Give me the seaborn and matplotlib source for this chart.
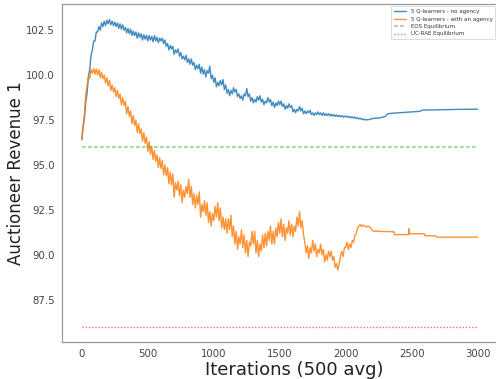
import matplotlib
matplotlib.use("Agg")
import matplotlib.pyplot as plt
import seaborn as sns
import pandas as pd

# ---------------- data ----------------
noisy_iters = list(range(0, 2261, 10))

no_agency_noisy = [
    96.4, 97.1, 97.6, 98.5, 99.0, 99.9, 100.3, 101.1, 101.4, 101.9,
    101.9, 102.4, 102.4, 102.7, 102.5, 102.9, 102.7, 103.0, 102.75, 103.05,
    102.85, 103.1, 102.8, 103.0, 102.75, 102.95, 102.7, 102.9, 102.6, 102.85,
    102.55, 102.8, 102.5, 102.65, 102.35, 102.6, 102.3, 102.55, 102.2, 102.45,
    102.2, 102.4, 102.05, 102.35, 102.1, 102.3, 101.95, 102.25, 102.0, 102.2,
    101.9, 102.2, 101.95, 102.15, 101.85, 102.2, 101.9, 102.1, 101.8, 102.05,
    101.9, 102.05, 101.75, 101.95, 101.6, 101.75, 101.4, 101.65, 101.45, 101.6,
    101.15, 101.4, 101.25, 101.45, 101.05, 101.25, 100.9, 101.05, 100.85, 101.1,
    100.7, 100.9, 100.6, 100.9, 100.55, 100.7, 100.3, 100.55, 100.35, 100.6,
    100.1, 100.45, 100.05, 100.3, 99.9, 100.25, 100.1, 100.5, 99.8, 100.0,
    99.6, 99.85, 99.35, 99.6, 99.4, 99.7, 99.45, 99.75, 99.2, 99.45,
    99.0, 99.2, 98.85, 99.15, 98.95, 99.3, 99.05, 99.2, 98.8, 98.95,
    98.7, 98.85, 98.6, 98.95, 98.85, 99.25, 98.8, 98.95, 98.55, 98.75,
    98.45, 98.65, 98.5, 98.8, 98.6, 98.85, 98.5, 98.65, 98.35, 98.55,
    98.45, 98.75, 98.5, 98.65, 98.3, 98.5, 98.2, 98.45, 98.3, 98.55,
    98.35, 98.55, 98.25, 98.4, 98.1, 98.3, 98.15, 98.4, 98.2, 98.3,
    97.95, 98.1, 97.9, 98.1, 98.0, 98.25, 98.0, 98.15, 97.85, 98.0,
    97.85, 98.0, 97.9, 98.05, 97.8, 97.9, 97.75, 97.9, 97.8, 97.95,
    97.8, 97.9, 97.75, 97.9, 97.75, 97.85, 97.75, 97.85, 97.72, 97.82,
    97.72, 97.8, 97.7, 97.78, 97.68, 97.76, 97.68, 97.75, 97.66, 97.72,
    97.66, 97.72, 97.64, 97.7, 97.62, 97.68, 97.6, 97.66, 97.58, 97.63,
    97.56, 97.6, 97.53, 97.57, 97.5, 97.54, 97.5, 97.53, 97.52, 97.56,
    97.56, 97.6, 97.58, 97.62, 97.58, 97.62, 97.62,
]
no_agency_tail_iters = [2300, 2320, 2360, 2400, 2480, 2560, 2580, 2700, 2850, 3000]
no_agency_tail = [97.7, 97.85, 97.88, 97.9, 97.94, 97.98, 98.05, 98.07, 98.09, 98.1]

agency_noisy = [
    96.4, 97.2, 97.8, 98.9, 99.4, 99.9, 99.8, 100.3, 100.1, 100.35,
    100.05, 100.35, 100.0, 100.3, 99.85, 100.15, 99.8, 100.0, 99.55, 99.85,
    99.4, 99.7, 99.15, 99.45, 99.05, 99.3, 98.8, 99.15, 98.7, 98.95,
    98.35, 98.75, 98.3, 98.55, 97.85, 98.25, 97.7, 98.0, 97.3, 97.75,
    97.2, 97.5, 96.8, 97.3, 96.75, 97.0, 96.3, 96.8, 96.2, 96.55,
    95.75, 96.3, 95.6, 96.05, 95.3, 95.8, 95.2, 95.55, 94.85, 95.4,
    94.8, 95.25, 94.45, 95.0, 94.4, 94.85, 93.95, 94.6, 93.9, 94.5,
    93.2, 94.0, 93.6, 94.1, 93.3, 93.9, 92.9, 93.6, 93.2, 93.8,
    93.4, 94.2, 93.2, 93.8, 92.8, 93.4, 92.6, 93.3, 92.8, 93.5,
    92.1, 92.8, 92.4, 93.0, 92.2, 92.9, 91.8, 92.4, 91.6, 92.3,
    91.9, 92.7, 92.1, 92.9, 91.9, 92.6, 91.5, 92.1, 91.4, 92.0,
    91.2, 92.0, 91.4, 92.2, 91.0, 91.6, 90.6, 91.3, 90.3, 91.0,
    90.6, 91.4, 90.4, 91.1, 90.1, 90.8, 89.9, 90.7, 90.5, 91.3,
    90.6, 91.3, 90.1, 90.8, 89.9, 90.6, 90.2, 91.1, 90.4, 91.2,
    90.5, 91.3, 90.8, 91.6, 90.6, 91.3, 90.6, 91.5, 91.0, 91.8,
    91.2, 92.0, 91.0, 91.7, 90.8, 91.5, 91.2, 91.9, 91.1, 91.7,
    91.0, 91.6, 91.3, 92.1, 91.6, 92.4, 91.5, 91.9, 91.1, 90.7,
    90.1, 90.5, 89.8, 90.4, 90.1, 90.8, 90.2, 90.6, 89.9, 90.3,
    90.1, 90.6, 90.0, 90.3, 89.6, 90.0, 89.7, 90.2, 89.9, 90.2,
    89.7, 89.9, 89.3, 89.5, 89.15, 89.5, 89.9, 90.2, 89.9, 90.4,
    90.4, 90.7, 90.3, 90.6, 90.4, 90.8, 90.7, 91.1, 91.2, 91.5,
    91.6, 91.68, 91.58, 91.65, 91.6, 91.58, 91.55, 91.6, 91.55, 91.5,
    91.35, 91.32, 91.3, 91.33, 91.3, 91.32, 91.3,
]
agency_tail_iters = [2365, 2370, 2476, 2480, 2484, 2595, 2600, 2685, 2690, 3000]
agency_tail = [91.28, 91.12, 91.12, 91.45, 91.17, 91.17, 91.06, 91.05, 90.98, 90.98]

eos_value = 96.0
ucrae_value = 86.0
eq_iters = [0, 3000]

labels = ["5 Q-learners - no agency", "5 Q-learners - with an agency",
          "EOS Equilibrium", "UC-RAE Equilibrium"]
x_ticks = [0, 500, 1000, 1500, 2000, 2500, 3000]
y_ticks = [87.5, 90.0, 92.5, 95.0, 97.5, 100.0, 102.5]

# ---------------- build frames ----------------
df_no = pd.DataFrame({"it": noisy_iters + no_agency_tail_iters,
                      "rev": no_agency_noisy + no_agency_tail})
df_ag = pd.DataFrame({"it": noisy_iters + agency_tail_iters,
                      "rev": agency_noisy + agency_tail})

# ---------------- style ----------------
sns.set_style("white")
plt.rcParams["font.family"] = ["DejaVu Sans"]

fig = plt.figure(figsize=(4.96, 3.79), dpi=100)
ax = fig.add_axes([62 / 496, 37 / 379, 435.5 / 496, 338 / 379])

sns.lineplot(data=df_no, x="it", y="rev", ax=ax, color="#1f77b4",
             linewidth=1.0, alpha=0.85, label=labels[0], sort=False)
sns.lineplot(data=df_ag, x="it", y="rev", ax=ax, color="#ff7f0e",
             linewidth=1.0, alpha=0.85, label=labels[1], sort=False)
ax.plot(eq_iters, [eos_value] * len(eq_iters), color="#2ca02c",
        linewidth=1.2, alpha=0.5, label=labels[2], linestyle=(0, (2.2, 1.4)))
ax.plot(eq_iters, [ucrae_value] * len(eq_iters), color="#e8383a",
        linewidth=1.0, alpha=0.7, label=labels[3], linestyle=(0, (1, 1.3)))

ax.set_xticks(x_ticks)
ax.set_yticks(y_ticks)
ax.set_xticklabels([str(t) for t in x_ticks])
ax.set_yticklabels([f"{t:.1f}" for t in y_ticks])
ax.tick_params(axis="both", labelsize=7.3, labelcolor="#444444", color="#999999",
               length=2.5, width=0.6, pad=2.5)
for s in ax.spines.values():
    s.set_color("#999999")
    s.set_linewidth(0.9)

ax.set_xlabel("Iterations (500 avg)", fontsize=13, color="#222222", labelpad=1)
ax.xaxis.set_label_coords(0.533, -0.055)
ax.set_ylabel("Auctioneer Revenue 1", fontsize=12, color="#222222", labelpad=1)

leg = ax.legend(loc="upper right", fontsize=4, frameon=True, borderaxespad=0.4,
                handlelength=2.2, labelspacing=0.45, borderpad=0.5)
leg.get_frame().set_edgecolor("#cccccc")
leg.get_frame().set_linewidth(0.6)
for t in leg.get_texts():
    t.set_color("#333333")

fig.savefig("out.png", dpi=100)
